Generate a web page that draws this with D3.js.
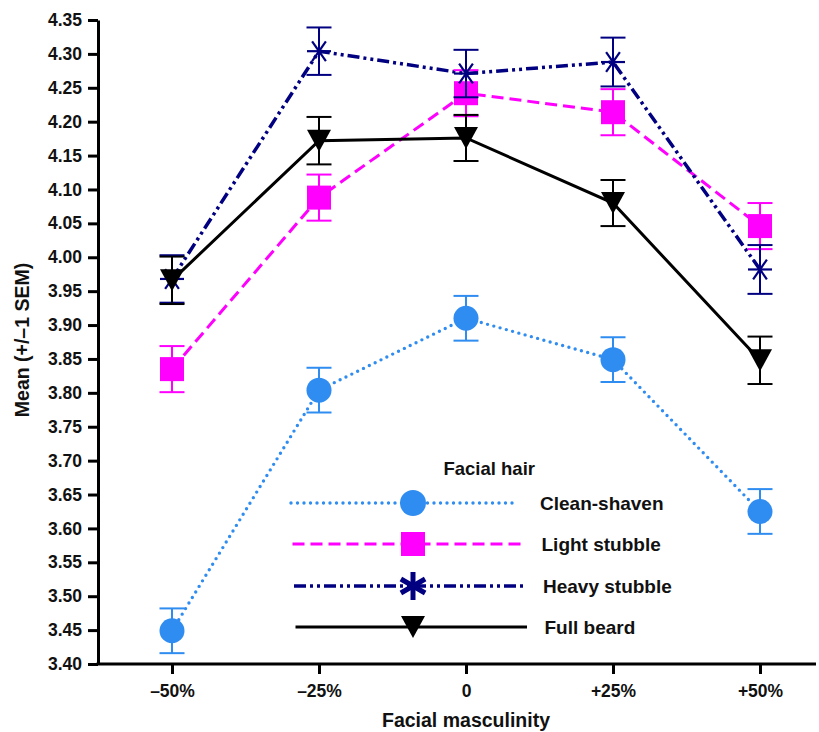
<!DOCTYPE html>
<html>
<head>
<meta charset="utf-8">
<script src="https://cdn.jsdelivr.net/npm/d3@7"></script>
<style>
  html, body { margin: 0; padding: 0; background: #fff; }
  svg { display: block; font-family: "Liberation Sans", Arial, Helvetica, sans-serif; font-weight: bold; }
</style>
</head>
<body>
<svg id="chart" width="819" height="732"></svg>
<script>
// ---- data ----
const categories = ["–50%", "–25%", "0", "+25%", "+50%"];
const yTicks = [3.40, 3.45, 3.50, 3.55, 3.60, 3.65, 3.70, 3.75, 3.80, 3.85, 3.90, 3.95, 4.00, 4.05, 4.10, 4.15, 4.20, 4.25, 4.30, 4.35];
const seriesNames = ["Clean-shaven", "Light stubble", "Heavy stubble", "Full beard"];
const cleanShaven  = [3.449, 3.804, 3.910, 3.849, 3.625];
const lightStubble = [3.835, 4.088, 4.242, 4.214, 4.046];
const heavyStubble = [3.968, 4.304, 4.271, 4.288, 3.982];
const fullBeard    = [3.966, 4.172, 4.176, 4.080, 3.848];
const cleanSem  = [0.033, 0.033, 0.033, 0.033, 0.033];
const lightSem  = [0.034, 0.034, 0.034, 0.034, 0.034];
const heavySem  = [0.035, 0.035, 0.035, 0.036, 0.036];
const beardSem  = [0.035, 0.035, 0.034, 0.034, 0.035];

const series = [
  { name: seriesNames[0], values: cleanShaven,  sem: cleanSem,  color: "#2f8cf0", dash: "0 6.5", cap: "round", width: 3.4, marker: "circle" },
  { name: seriesNames[1], values: lightStubble, sem: lightSem,  color: "#ff00ff", dash: "12 6",  cap: "butt",  width: 3,   marker: "square" },
  { name: seriesNames[2], values: heavyStubble, sem: heavySem,  color: "#000080", dash: "12 4 3 4 3 4", cap: "butt", width: 3.5, marker: "asterisk" },
  { name: seriesNames[3], values: fullBeard,    sem: beardSem,  color: "#000000", dash: null,    cap: "butt",  width: 3,   marker: "triangle" }
];

// ---- layout ----
const svg = d3.select("#chart");
const x = d3.scalePoint().domain(categories).range([172, 760]);
const y = d3.scaleLinear().domain([3.40, 4.35]).range([664, 20]);

// axes
const yAxis = svg.append("g").attr("transform", "translate(98,0)")
  .call(d3.axisLeft(y).tickValues(yTicks).tickFormat(d3.format(".2f")).tickSize(10).tickSizeOuter(0).tickPadding(6));
yAxis.select(".domain").attr("stroke-width", 3);
yAxis.selectAll(".tick line").attr("stroke-width", 3);
yAxis.selectAll(".tick text").attr("font-size", 17.5).attr("font-weight", "bold").attr("fill", "#111")
  .attr("font-family", "'Liberation Sans', Arial, sans-serif");

svg.append("line").attr("x1", 96.5).attr("x2", 816).attr("y1", y(3.40)).attr("y2", y(3.40))
  .attr("stroke", "#000").attr("stroke-width", 3);

const xAxis = svg.append("g").attr("transform", `translate(0,${y(3.40)})`)
  .call(d3.axisBottom(x).tickSize(10).tickSizeOuter(0).tickPadding(11));
xAxis.select(".domain").remove();
xAxis.selectAll(".tick line").attr("stroke-width", 3);
xAxis.selectAll(".tick text").attr("font-size", 17.5).attr("font-weight", "bold").attr("fill", "#111")
  .attr("font-family", "'Liberation Sans', Arial, sans-serif");

svg.append("text").attr("x", x("0")).attr("y", 727).attr("text-anchor", "middle")
  .attr("font-size", 19.5).attr("fill", "#111").text("Facial masculinity");
svg.append("text").attr("transform", "translate(29,340) rotate(-90)").attr("text-anchor", "middle")
  .attr("font-size", 19.5).attr("fill", "#111").text("Mean (+/–1 SEM)");

// marker drawing
function drawMarker(g, type, cx, cy, color, legend) {
  if (type === "circle") {
    g.append("circle").attr("cx", cx).attr("cy", cy).attr("r", legend ? 13 : 12.5).attr("fill", color);
  } else if (type === "square") {
    const s = 24;
    g.append("rect").attr("x", cx - s / 2).attr("y", cy - s / 2).attr("width", s).attr("height", s).attr("fill", color);
  } else if (type === "triangle") {
    const w = 24, h = 22;
    g.append("path").attr("d", `M${cx - w / 2},${cy - h / 2}L${cx + w / 2},${cy - h / 2}L${cx},${cy + h / 2}Z`).attr("fill", color);
  } else if (type === "asterisk") {
    const r = legend ? 14 : 12;
    const angles = legend ? [90, 30, 150] : [0, 55, 125];
    angles.forEach(a => {
      const rad = a * Math.PI / 180;
      g.append("line")
        .attr("x1", cx - r * Math.cos(rad)).attr("y1", cy - r * Math.sin(rad))
        .attr("x2", cx + r * Math.cos(rad)).attr("y2", cy + r * Math.sin(rad))
        .attr("stroke", color).attr("stroke-width", legend ? 5 : 2.2);
    });
  }
}

// series
const line = d3.line().x((d, i) => x(categories[i])).y(d => y(d));
series.forEach(s => {
  const g = svg.append("g");
  g.append("path").attr("d", line(s.values)).attr("fill", "none")
    .attr("stroke", s.color).attr("stroke-width", s.width)
    .attr("stroke-dasharray", s.dash).attr("stroke-linecap", s.cap);
});
series.forEach(s => {
  const g = svg.append("g");
  s.values.forEach((v, i) => {
    const cx = x(categories[i]);
    const top = y(v + s.sem[i]), bot = y(v - s.sem[i]);
    g.append("line").attr("x1", cx).attr("x2", cx).attr("y1", top).attr("y2", bot).attr("stroke", s.color).attr("stroke-width", 2);
    [top, bot].forEach(yy => g.append("line").attr("x1", cx - 12.5).attr("x2", cx + 12.5).attr("y1", yy).attr("y2", yy)
      .attr("stroke", s.color).attr("stroke-width", 2));
  });
  s.values.forEach((v, i) => drawMarker(g, s.marker, x(categories[i]), y(v), s.color, false));
});

// legend
const legendYs = [503, 544, 586, 627];
svg.append("text").attr("x", 535).attr("y", 475).attr("text-anchor", "end")
  .attr("font-size", 18.5).attr("fill", "#111").text("Facial hair");
series.forEach((s, k) => {
  const ly = legendYs[k];
  const g = svg.append("g");
  g.append("line").attr("x1", 291 + k * 1.5).attr("x2", 518 + k * 3).attr("y1", ly).attr("y2", ly)
    .attr("stroke", s.color).attr("stroke-width", s.width)
    .attr("stroke-dasharray", s.dash).attr("stroke-linecap", s.cap);
  drawMarker(g, s.marker, 413, ly, s.color, true);
  g.append("text").attr("x", 540 + k * 1.5).attr("y", ly + 7).attr("font-size", 19).attr("fill", "#111").text(s.name);
});
</script>
</body>
</html>
